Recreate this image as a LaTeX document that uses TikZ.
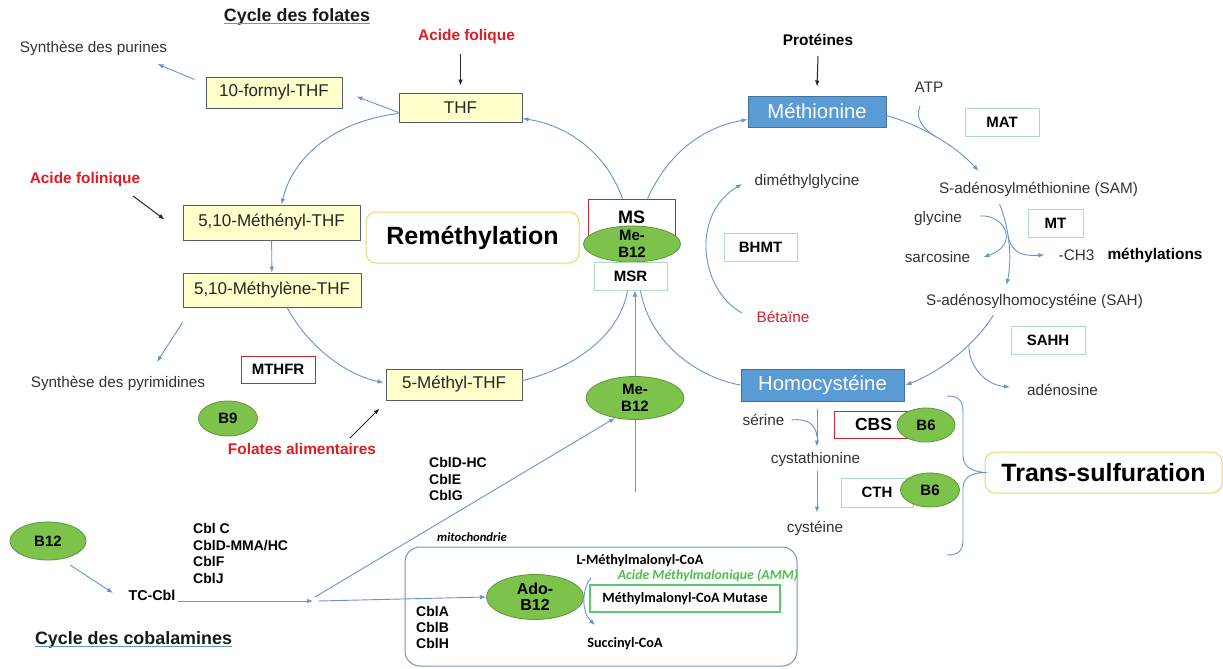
\documentclass[tikz,border=0pt]{standalone}
\usepackage{fontspec}
\setmainfont{Liberation Sans}
\newfontfamily\calib{Carlito}
\usepackage{tikz}
\usetikzlibrary{arrows.meta,shapes.geometric}
\definecolor{flowc}{RGB}{100,150,205}
\definecolor{folfill}{RGB}{255,255,204}
\definecolor{folline}{RGB}{80,95,110}
\definecolor{redc}{RGB}{220,30,35}
\definecolor{enzredc}{RGB}{200,40,45}
\definecolor{enzgrnc}{RGB}{170,220,190}
\definecolor{vitfill}{RGB}{125,195,75}
\definecolor{vitline}{RGB}{90,150,60}
\definecolor{metfill}{RGB}{91,155,213}
\definecolor{metline}{RGB}{65,113,156}
\definecolor{goldc}{RGB}{240,210,110}
\definecolor{mutgrn}{RGB}{90,200,110}
\definecolor{ammgrn}{RGB}{80,190,80}
\definecolor{mitoc}{RGB}{120,150,180}
\definecolor{ulinec}{RGB}{100,150,210}
\newcommand{\fsz}[1]{\fontsize{#1}{#1}\selectfont}

\begin{document}
\begin{tikzpicture}[x=1pt, y=-1pt, >={Latex[length=6pt,width=4.5pt]},
  flow/.style={flowc, line width=0.9pt},
  ink/.style={black!85, line width=1pt},
  uline/.style={ulinec, line width=1.2pt},
  lbl/.style={inner sep=0pt, font=\fsz{15.3}, text=black!80},
  redlbl/.style={inner sep=0pt, font=\bfseries\fsz{15.4}, text=redc},
  boldlbl/.style={inner sep=0pt, font=\bfseries\fsz{15.4}},
  titre/.style={inner sep=0pt, font=\bfseries\fsz{17.9}, text=black!90},
  folbox/.style={draw=folline, fill=folfill, line width=0.9pt, inner sep=0pt, font=\fsz{17}, text=black!85},
  enzred/.style={draw=enzredc, fill=white, line width=1pt, inner sep=0pt, font=\bfseries\fsz{15}},
  enzgrn/.style={draw=enzgrnc, fill=white, line width=1pt, inner sep=0pt, font=\bfseries\fsz{15}},
  vitam/.style={ellipse, draw=vitline, fill=vitfill, line width=0.8pt, inner sep=0pt, align=center,
    font=\bfseries\fontsize{15}{17.5}\selectfont},
  metab/.style={draw=metline, fill=metfill, text=white, line width=1pt, inner sep=0pt, font=\fsz{20.3}},
  bigbox/.style={draw=goldc, fill=white, rounded corners=10pt, line width=1pt, inner sep=0pt, font=\bfseries\fsz{25}},
  cbl/.style={inner sep=0pt, align=left, anchor=north west, font=\bfseries\fontsize{14}{16.5}\selectfont},
  calb/.style={inner sep=0pt, font=\calib\bfseries\fsz{14.2}}]

\fill[white] (0,0) rectangle (1223,669);
\useasboundingbox (0,0) rectangle (1223,669);

% cycle des folates
\node[titre] (titfol) at (297,17) {Cycle des folates};
\draw[uline] ([yshift=-2pt]titfol.base west) -- ([yshift=-2pt]titfol.base east);
\node[lbl] (purines) at (93.5,48) {Synthèse des purines};
\node[folbox, minimum width=136pt, minimum height=31pt] (formyl) at (274,92.5) {10-formyl-THF};
\node[redlbl] (folique) at (466.5,37) {Acide folique};
\node[folbox, minimum width=123pt, minimum height=29pt] (thf) at (460.5,107.5) {THF};
\node[redlbl] (folinique) at (85,180) {Acide folinique};
\node[folbox, minimum width=177pt, minimum height=35pt] (meny) at (271.5,222.5) {5,10-Méthényl-THF};
\node[folbox, minimum width=178pt, minimum height=34pt] (mely) at (272,290) {5,10-Méthylène-THF};
\node[lbl] (pyrim) at (118,383) {Synthèse des pyrimidines};
\node[enzred, minimum width=74pt, minimum height=27pt] (mthfr) at (278,369.5) {MTHFR};
\node[vitam, minimum width=59pt, minimum height=35pt] (b9) at (228,418.5) {B9};
\node[folbox, minimum width=136pt, minimum height=31pt] (meth5) at (454,384.5) {5-Méthyl-THF};
\node[redlbl] (alim) at (302,449) {Folates alimentaires};
\node[bigbox, minimum width=213pt, minimum height=51pt] (remeth) at (472.5,237.5) {Reméthylation};

\draw[flow,->] ([shift={(-11pt,13pt)}]formyl.west) -- ([shift={(64pt,-16pt)}]purines.center);
\draw[flow,->] ([yshift=-5pt]thf.west) -- ([shift={(14pt,-4pt)}]formyl.east);
\draw[ink,->] ([shift={(-6pt,-10pt)}]folique.south) -- ([yshift=7pt]thf.north);
\draw[flow,->] ([yshift=-6pt]thf.west) .. controls (330,122) and (292,160) .. ([xshift=10pt]meny.north);
\draw[ink,->] ([shift={(48pt,-16pt)}]folinique.center) -- ([shift={(-18pt,3pt)}]meny.west);
\draw[flow,->] (meny) -- (mely);
\draw[flow,->] ([yshift=-15pt]mely.south west) -- ([shift={(39pt,21pt)}]pyrim.center);
\draw[flow,->] ([xshift=15pt]mely.south) .. controls (310,350) and (350,376) .. ([shift={(-2pt,2pt)}]meth5.west);
\draw[ink,->] ([shift={(48pt,11pt)}]alim.center) -- ([shift={(-6pt,-8pt)}]meth5.south west);

% MS
\node[enzred, minimum width=87pt, minimum height=36pt, font=\bfseries\fsz{18}] (ms) at (631.5,217) {MS};
\node[vitam, minimum width=97pt, minimum height=36pt, inner ysep=-8pt] (mebh) at (632,244) {Me-\\B12};
\node[enzgrn, minimum width=73pt, minimum height=28pt] (msr) at (630.5,276) {MSR};
\node[vitam, minimum width=98pt, minimum height=43pt, inner ysep=-8pt] (mebl) at (635,398) {Me-\\B12};

\draw[flow] ([yshift=4pt]meth5.east) .. controls (575,368) and (620,335) .. ([xshift=-3pt]msr.south);
\draw[flow,->] ([xshift=-9pt]ms.north) .. controls (605,150) and (565,125) .. ([yshift=-11pt]thf.east);

% methionine
\node[boldlbl] (prot) at (818,40) {Protéines};
\node[metab, minimum width=138pt, minimum height=31pt] (met) at (817,111.5) {Méthionine};
\node[lbl] (atp) at (929,87) {ATP};
\node[enzgrn, minimum width=74pt, minimum height=28pt] (mat) at (1002,122) {MAT};
\node[lbl] (sam) at (1038.5,189) {S-adénosylméthionine (SAM)};
\node[lbl] (dmg) at (807,181) {diméthylglycine};
\node[enzgrn, minimum width=73pt, minimum height=28pt] (bhmt) at (760.5,247) {BHMT};
\node[lbl, text=redc] (betaine) at (783,317) {Bétaïne};
\node[lbl] (glycine) at (938,219) {glycine};
\node[enzgrn, minimum width=55pt, minimum height=28pt] (mt) at (1055.5,223) {MT};
\node[lbl] (sarco) at (937.5,257) {sarcosine};
\node[lbl] (ch3) at (1076.5,255) {-CH3};
\node[boldlbl] (methyl) at (1155,255) {méthylations};
\node[lbl] (sah) at (1034.5,301) {S-adénosylhomocystéine (SAH)};
\node[enzgrn, minimum width=74pt, minimum height=28pt] (sahh) at (1048,340) {SAHH};
\node[lbl] (adenos) at (1062.5,390) {adénosine};
\node[metab, minimum width=163pt, minimum height=32pt] (homoc) at (822.5,385) {Homocystéine};

\draw[flow,->] ([xshift=16pt]ms.north) .. controls (670,150) and (705,127) .. ([yshift=-8pt]met.west);
\draw[flow] ([xshift=10pt]msr.south) .. controls (650,345) and (700,378) .. (homoc.west);
\draw[ink,->] ([yshift=-10pt]prot.south) -- ([yshift=9pt]met.north);
\draw[flow,->] ([yshift=-4pt]met.east) .. controls (920,125) and (955,145) .. ([shift={(-60pt,18pt)}]sam.center);
\coordinate (atpjoin) at (936,137);
\draw[flow] ([shift={(-9pt,-19pt)}]atp.center) .. controls (915,118) and (922,128) .. (atpjoin);
\draw[flow,->] ([shift={(-41pt,4pt)}]betaine.center) .. controls (700,290) and (690,215) .. ([shift={(-65pt,-3pt)}]dmg.center);
\draw[flow,->] ([shift={(-39pt,-15pt)}]sam.center) .. controls (1010,230) and (1012,260) .. ([shift={(-28pt,16pt)}]sah.center);
\draw[flow,->] ([shift={(18pt,3pt)}]glycine.east) .. controls (1005,214) and (1020,245) .. ([xshift=13pt]sarco.east);
\coordinate (ch3join) at (1008,236);
\draw[flow,->] (ch3join) .. controls (1012,255) and (1025,256) .. ([xshift=-14pt]ch3.west);
\draw[flow,->] ([shift={(-41pt,-14pt)}]sah.center) .. controls (975,345) and (940,372) .. ([xshift=1pt]homoc.east);
\coordinate (adojoin) at (969,345);
\draw[flow,->] (adojoin) .. controls (968,365) and (985,385) .. ([shift={(-17pt,3pt)}]adenos.west);

% trans-sulfuration
\node[lbl] (serine) at (763.5,420) {sérine};
\node[enzred, minimum width=79pt, minimum height=27pt, font=\bfseries\fsz{17.5}] (cbs) at (873.5,424.5) {CBS};
\node[vitam, minimum width=58pt, minimum height=34pt] (bsixa) at (926,425) {B6};
\node[lbl] (cysta) at (815.5,460) {cystathionine};
\node[enzgrn, minimum width=72pt, minimum height=29pt] (cth) at (877,492.5) {CTH};
\node[vitam, minimum width=59pt, minimum height=34pt] (bsixb) at (930,490) {B6};
\node[lbl] (cystein) at (815,528) {cystéine};
\node[bigbox, minimum width=237pt, minimum height=41pt] (transs) at (1103.5,472.5) {Trans-sulfuration};

\draw[flow,->] ([shift={(-5.5pt,-7pt)}]homoc.south) -- ([shift={(1.5pt,6pt)}]cysta.north);
\coordinate (serjoin) at (817,437);
\draw[flow] ([xshift=7pt]serine.east) .. controls (808,418) and (816,425) .. (serjoin);
\draw[flow,->] ([shift={(1.5pt,-4pt)}]cysta.south) -- ([shift={(2pt,8pt)}]cystein.north);
\draw[flow] (947,396) .. controls (958,396) and (963,400) .. (963,412) -- (963,455)
  .. controls (963,466) and (970,471) .. (transs.west)
  .. controls (970,473) and (963,478) .. (963,489) -- (963,540)
  .. controls (963,551) and (958,555) .. (947,555);

% cycle des cobalamines
\node[titre] (titcob) at (133.5,640) {Cycle des cobalamines};
\draw[uline] ([yshift=-2pt]titcob.base west) -- ([yshift=-2pt]titcob.base east);
\node[vitam, minimum width=76pt, minimum height=38pt] (b12) at (48,541) {B12};
\node[inner sep=0pt, font=\bfseries\fsz{14.3}] (tccbl) at (152,595) {TC-Cbl};
\node[cbl] (cblc) at (193,523.5) {Cbl C\\CblD-MMA/HC\\CblF\\CblJ};
\node[cbl] (cbldhc) at (429,457.5) {CblD-HC\\CblE\\CblG};
\node[draw=mitoc, rounded corners=15pt, line width=1pt, minimum width=392pt, minimum height=119pt] (mito) at (601,606.5) {};
\node[inner sep=0pt, font=\calib\bfseries\itshape\fsz{12.6}] (mitolbl) at (472,537) {mitochondrie};
\node[cbl, font=\bfseries\fontsize{14}{16}\selectfont] (cbla) at (416,606.5) {CblA\\CblB\\CblH};
\node[vitam, minimum width=97pt, minimum height=45pt, inner ysep=-8pt, font=\bfseries\fontsize{16}{16}\selectfont] (ado) at (535,597) {Ado-\\B12};
\node[calb] (lmmca) at (640,561) {L-Méthylmalonyl-CoA};
\node[calb, font=\calib\bfseries\itshape\fsz{13.8}, text=ammgrn] (amm) at (708,575) {Acide Méthylmalonique (AMM)};
\node[draw=mutgrn, line width=1.6pt, inner sep=0pt, minimum width=190pt, minimum height=27pt, font=\calib\bfseries\fsz{14.2}] (mutase) at (685,598.5) {Méthylmalonyl-CoA Mutase};
\node[calb] (succ) at (625,644) {Succinyl-CoA};

\draw[flow,->] ([shift={(22pt,-24pt)}]b12.center) -- ([shift={(-39pt,2pt)}]tccbl.center);
\coordinate (split) at (315,601);
\draw[flow,->] ([shift={(2pt,-6pt)}]tccbl.east) -- ([xshift=-2pt]split);
\draw[flow,->] ([xshift=3pt]split) -- (ado.west);
\draw[flow,->] ([yshift=4pt]split) -- (mebl.225);
\coordinate (vbot) at (635,492);
\draw[flow] (vbot) -- (mebl.south);
\draw[flow,->] (mebl.north) -- (mebl.north |- msr.south);
\draw[flow,->] ([shift={(-49pt,-17pt)}]lmmca.center) .. controls (582,588) and (581,612) .. ([shift={(-30pt,19pt)}]succ.center);
\end{tikzpicture}
\end{document}
